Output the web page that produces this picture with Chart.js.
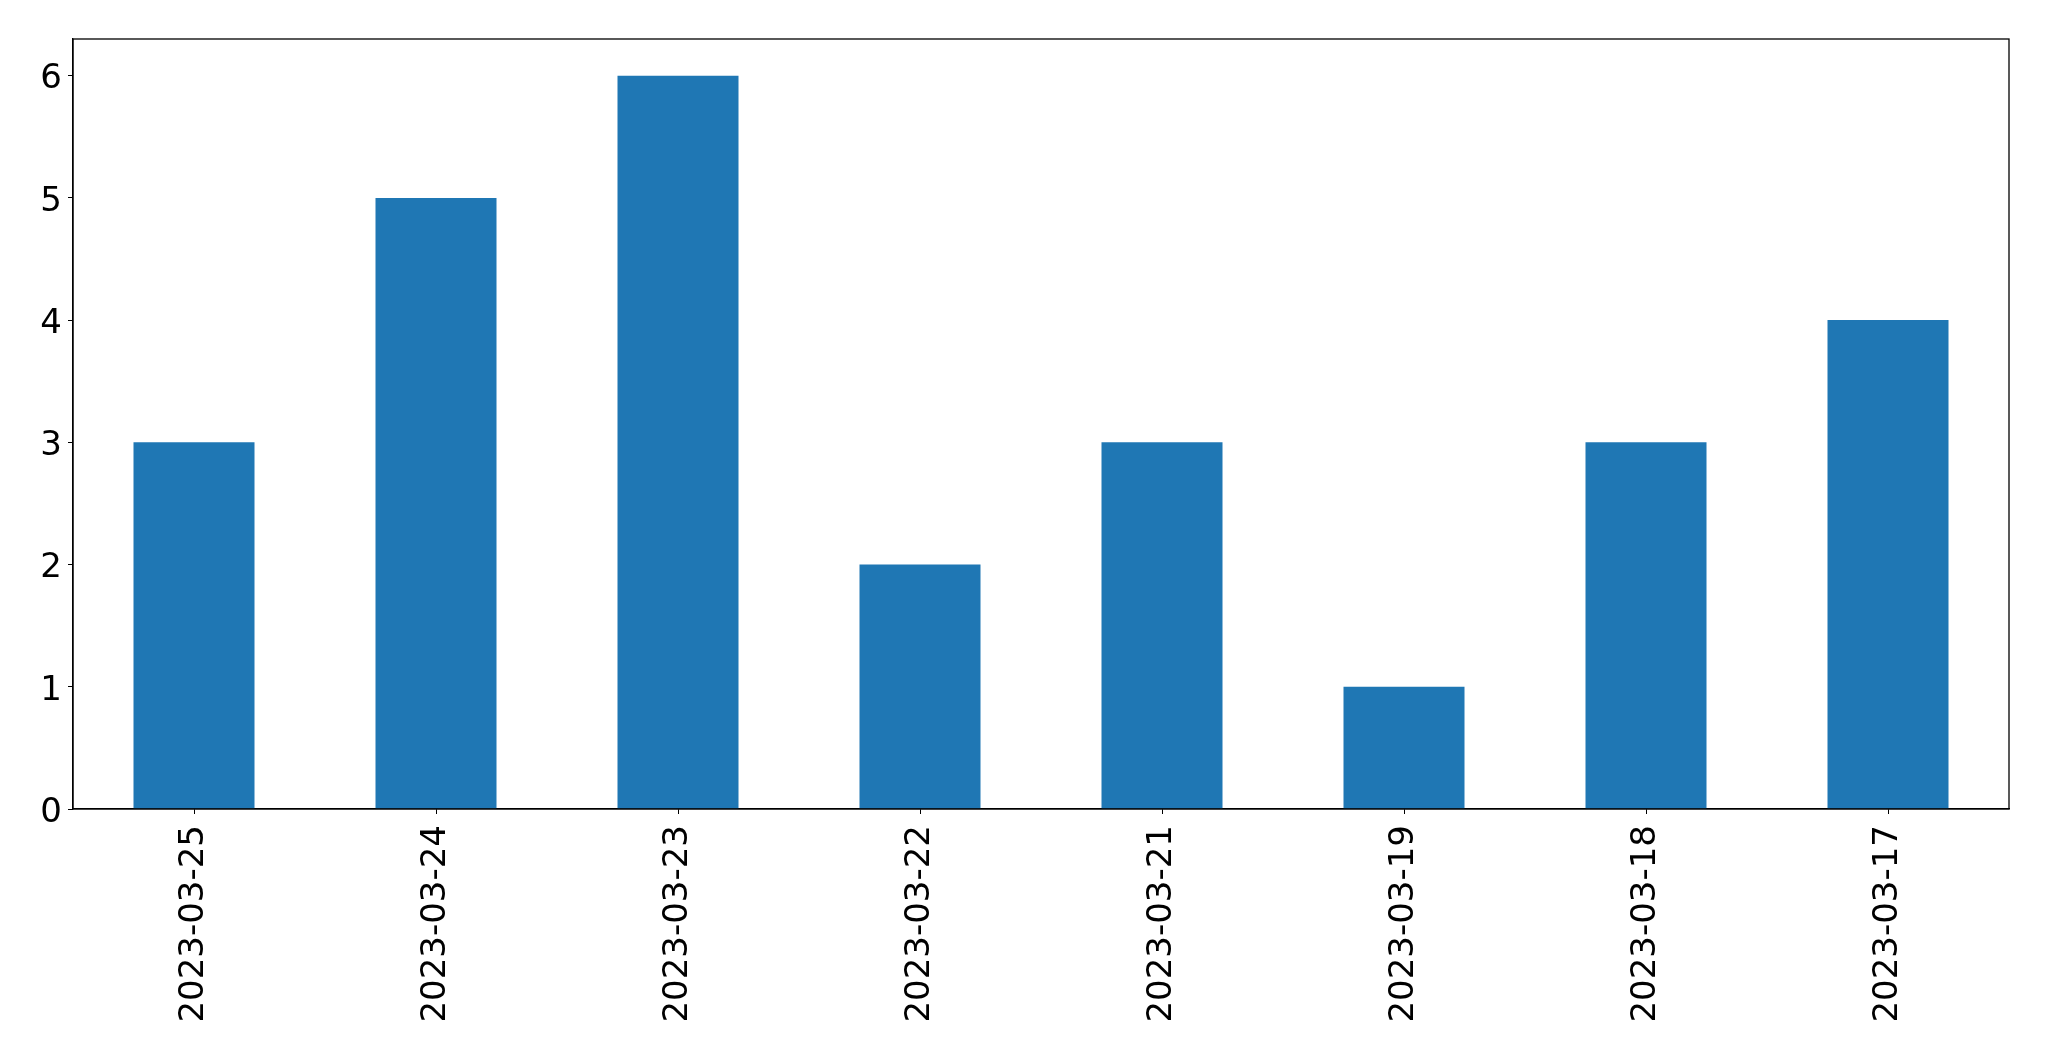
<!DOCTYPE html>
<html lang="en">
<head>
    <meta charset="UTF-8">
    <title>Daily counts</title>
    <script src="https://cdn.jsdelivr.net/npm/chart.js"></script>
    <style>
        html, body { margin: 0; padding: 0; background: #fff; }
        canvas { display: block; }
    </style>
</head>
<body>
    <canvas id="barChart" width="2049" height="1061"></canvas>
    <script>
        const dates = ['2023-03-25', '2023-03-24', '2023-03-23', '2023-03-22',
                       '2023-03-21', '2023-03-19', '2023-03-18', '2023-03-17'];
        const counts = [3, 5, 6, 2, 3, 1, 3, 4];
        const yTicks = [0, 1, 2, 3, 4, 5, 6];

        // box around the plot area, like matplotlib spines
        const frame = {
            id: 'frame',
            afterDatasetsDraw(chart) {
                const a = chart.chartArea, ctx = chart.ctx;
                ctx.save();
                ctx.strokeStyle = '#000';
                ctx.lineWidth = 1.3;
                ctx.strokeRect(a.left, a.top, a.right - a.left, a.bottom - a.top);
                ctx.restore();
            }
        };

        const tickFont = { family: 'DejaVu Sans', size: 34 };

        new Chart(document.getElementById('barChart'), {
            type: 'bar',
            data: {
                labels: dates,
                datasets: [{
                    data: counts,
                    backgroundColor: '#1f77b4',
                    categoryPercentage: 1.0,
                    barPercentage: 0.5
                }]
            },
            options: {
                responsive: false,
                animation: false,
                layout: { padding: { top: 39, right: 40, left: 0, bottom: 0 } },
                plugins: { legend: { display: false }, tooltip: { enabled: false } },
                scales: {
                    x: {
                        grid: { display: true, offset: false, drawOnChartArea: false, drawTicks: true, tickLength: 5, color: '#000' },
                        border: { display: true, color: '#000', width: 1.3 },
                        ticks: { color: '#000', font: tickFont, minRotation: 90, maxRotation: 90, padding: 11 },
                        afterFit(scale) { scale.height = 1061 - 809; }
                    },
                    y: {
                        min: 0,
                        max: 6.3,
                        grid: { display: true, drawOnChartArea: false, drawTicks: true, tickLength: 5, color: '#000' },
                        border: { display: true, color: '#000', width: 1.3 },
                        ticks: { color: '#000', font: tickFont, stepSize: 1, includeBounds: false, padding: 6, labelOffset: 4 },
                        afterBuildTicks(scale) { scale.ticks = yTicks.map(v => ({ value: v })); },
                        afterFit(scale) { scale.width = 73; }
                    }
                }
            },
            plugins: [frame]
        });
    </script>
</body>
</html>
